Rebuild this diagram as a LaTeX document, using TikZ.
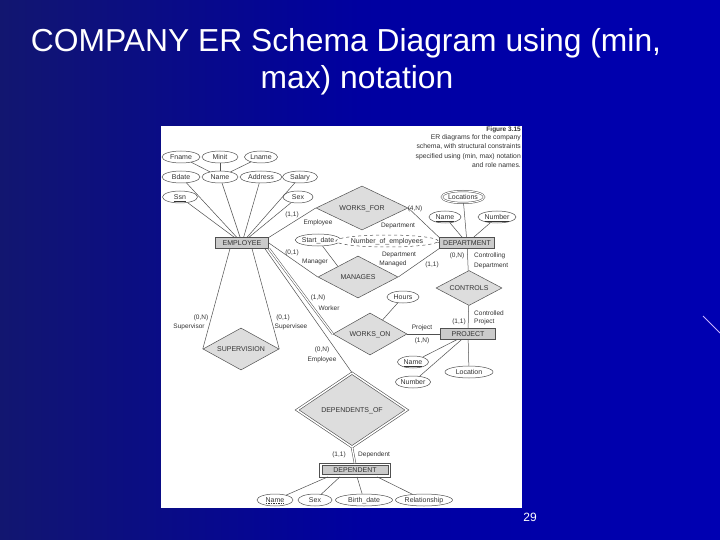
\documentclass[tikz,border=0pt]{standalone}
\usepackage{fontspec}
\setmainfont{Liberation Sans}
\usetikzlibrary{shapes.geometric,calc}
\definecolor{ln}{HTML}{505050}
\definecolor{tx}{HTML}{333333}
\definecolor{relfill}{HTML}{DDDDDD}
\definecolor{entfill}{HTML}{CBCBCB}
\definecolor{bgL}{RGB}{18,22,112}
\definecolor{bgM}{RGB}{0,0,160}
\definecolor{bgR}{RGB}{0,0,178}
\definecolor{lav}{RGB}{200,180,255}
\begin{document}
\begin{tikzpicture}[x=1pt,y=-1pt,
  every node/.style={font=\fontsize{7}{8}\selectfont, text=tx, inner sep=0pt},
  attr/.style={ellipse, draw=ln, line width=0.5pt, fill=white, minimum height=12pt, text height=5pt, text depth=0.5pt},
  ent/.style={rectangle, draw=ln, line width=0.7pt, fill=entfill, minimum height=10.5pt, text height=5pt, text depth=0.5pt},
  rel/.style={diamond, aspect=2.2, draw=ln, line width=0.5pt, fill=relfill, text height=5pt, text depth=0.5pt},
  role/.style={font=\fontsize{6.5}{7.5}\selectfont},
  conn/.style={draw=ln, line width=0.5pt},
  dconn/.style={draw=ln, line width=0.5pt, double=white, double distance=1.3pt},
  slidetitle/.style={text=white, font=\fontsize{31.8}{37}\selectfont, anchor=base},
]
\useasboundingbox (0,0) rectangle (720,540);
\shade[left color=bgL, right color=bgR, middle color=bgM] (0,0) rectangle (720,540);
\draw[lav, line width=0.9pt] (703,316) -- (720,333);
\fill[white] (161,126) rectangle (522,508);

% title
\node[slidetitle] (t1) at (346,52) {COMPANY ER Schema Diagram using (min,};
\node[slidetitle] (t2) at (357,89) {max) notation};
\node[text=white, font=\fontsize{12}{12}\selectfont] (pg) at (530,517) {29};

% caption
\node[anchor=east, font=\bfseries\fontsize{6.5}{7}\selectfont] (figt) at (521,130) {Figure 3.15};
\node[anchor=north east, align=right, font=\fontsize{6.8}{9.6}\selectfont, text=tx] (figc) at (521,134)
  {ER diagrams for the company\\schema, with structural constraints\\specified using (min, max) notation\\and role names.};

% entities
\node[ent, minimum width=53pt] (emp) at (242,243) {EMPLOYEE};
\node[ent, minimum width=55pt] (dept) at (467,243) {DEPARTMENT};
\node[ent, minimum width=55pt] (proj) at (468,334) {PROJECT};
\node[ent, minimum width=66pt, minimum height=9pt, line width=0.6pt] (dep) at (355,470) {DEPENDENT};
\draw[ln, line width=0.6pt] ($(dep.north west)+(-2,-2)$) rectangle ($(dep.south east)+(2,2)$);

% relationships
\node[rel, minimum width=92pt, minimum height=44pt] (wf) at (362,208) {WORKS\_FOR};
\node[rel, minimum width=80pt, minimum height=42pt] (mg) at (358,277) {MANAGES};
\node[rel, minimum width=66pt, minimum height=35pt] (ctrl) at (469,288) {CONTROLS};
\node[rel, minimum width=74pt, minimum height=42pt] (wo) at (370,334) {WORKS\_ON};
\node[rel, minimum width=76pt, minimum height=42pt] (sup) at (241,349) {SUPERVISION};
\node[rel, minimum width=110pt, minimum height=74pt, line width=0.6pt, double=white, double distance=1.5pt] (dof) at (352,410) {DEPENDENTS\_OF};

% attributes
\node[attr, minimum width=38pt] (fname) at (181,157) {Fname};
\node[attr, minimum width=36pt] (minit) at (220,157) {Minit};
\node[attr, minimum width=33pt] (lname) at (261,157) {Lname};
\node[attr, minimum width=38pt] (bdate) at (181,177) {Bdate};
\node[attr, minimum width=36pt] (ename) at (220,177) {Name};
\node[attr, minimum width=42pt] (addr) at (261,177) {Address};
\node[attr, minimum width=35pt] (sal) at (300,177) {Salary};
\node[attr, minimum width=35pt] (ssn) at (180,197) {\underline{Ssn}};
\node[attr, minimum width=30pt] (esex) at (298,197) {Sex};
\node[attr, double=white, double distance=1pt, minimum width=42pt, minimum height=12pt] (loc) at (463,197) {Locations};
\node[attr, minimum width=32pt] (dname) at (445,217) {\underline{Name}};
\node[attr, minimum width=38pt] (dnum) at (497,217) {\underline{Number}};
\node[attr, minimum width=41pt] (sdate) at (318,240) {Start\_date};
\node[attr, dashed, minimum width=90pt, minimum height=12pt] (noe) at (387,241) {Number\_of\_employees};
\node[attr, minimum width=32pt] (hours) at (403,297) {Hours};
\node[attr, minimum width=31pt] (pname) at (413,362) {\underline{Name}};
\node[attr, minimum width=31pt] (pnum) at (413,382) {Number};
\node[attr, minimum width=48pt] (ploc) at (469,372) {Location};
\node[attr, minimum width=36pt] (dpname) at (275,500) {Name};
\draw[tx, line width=0.4pt, dash pattern=on 1.5pt off 1pt] ($(dpname.center)+(-9.3,3.6)$) -- ($(dpname.center)+(9.3,3.6)$);
\node[attr, minimum width=34pt] (dpsex) at (315,500) {Sex};
\node[attr, minimum width=57pt] (bdt) at (364,500) {Birth\_date};
\node[attr, minimum width=57pt] (rls) at (424,500) {Relationship};

% connectors
\draw[conn] (fname) -- (ename);
\draw[conn] (minit) -- (ename);
\draw[conn] (lname) -- (ename);
\draw[conn] (bdate) -- (emp);
\draw[conn] (ename) -- (emp);
\draw[conn] (addr) -- (emp);
\draw[conn] (sal) -- (emp);
\draw[conn] (ssn) -- (emp);
\draw[conn] (esex) -- (emp);
\draw[conn] (emp.north east) -- (wf.west);
\draw[conn] (wf.east) -- (dept.north west);
\draw[conn] (emp.east) -- (mg.west);
\draw[conn] (mg.east) -- (dept.south west);
\draw[conn] (sdate) -- (mg.north west);
\draw[conn, dashed] (noe) -- (dept);
\draw[conn] (loc) -- (dept);
\draw[conn] (dname) -- (dept);
\draw[conn] (dnum) -- (dept);
\draw[conn] (dept) -- (ctrl);
\draw[conn] (ctrl) -- (proj);
\draw[dconn] (emp.south east) -- (wo.west);
\draw[conn] (wo) -- (hours);
\draw[conn] (wo.east) -- (proj.west);
\draw[conn] (pname) -- (proj);
\draw[conn] (pnum) -- (proj);
\draw[conn] (ploc) -- (proj);
\draw[conn] ([xshift=-4pt]emp.south east) -- (dof.north);
\draw[conn] ([xshift=-12pt]emp.south) -- (sup.west);
\draw[conn] ([xshift=10pt]emp.south) -- (sup.east);
\draw[dconn] (dof.south) -- ([yshift=2pt]dep.north);
\draw[conn] ([xshift=-27pt,yshift=-2pt]dep.south) -- (dpname);
\draw[conn] ([xshift=-15pt,yshift=-2pt]dep.south) -- (dpsex);
\draw[conn] ([xshift=2pt,yshift=-2pt]dep.south) -- (bdt);
\draw[conn] ([xshift=22pt,yshift=-2pt]dep.south) -- (rls);

% role labels
\node[role] (r1) at (292,215) {(1,1)};
\node[role] (r2) at (318,223) {Employee};
\node[role] (r3) at (415,209) {(4,N)};
\node[role] (r4) at (398,226) {Department};
\node[role] (r5) at (292,253) {(0,1)};
\node[role] (r6) at (315,262) {Manager};
\node[role] (r7) at (399,255) {Department};
\node[role] (r8) at (393,264) {Managed};
\node[role] (r9) at (432,265) {(1,1)};
\node[role] (r10) at (457,256) {(0,N)};
\node[role, anchor=west] (r11) at (474,256) {Controlling};
\node[role, anchor=west] (r12) at (474,266) {Department};
\node[role, anchor=west] (r13) at (474,313) {Controlled};
\node[role] (r14) at (459,322) {(1,1)};
\node[role, anchor=west] (r15) at (474,322) {Project};
\node[role] (r16) at (422,328) {Project};
\node[role] (r17) at (422,341) {(1,N)};
\node[role] (r18) at (318,298) {(1,N)};
\node[role] (r19) at (329,308) {Worker};
\node[role] (r20) at (322,350) {(0,N)};
\node[role] (r21) at (322,360) {Employee};
\node[role] (r22) at (201,318) {(0,N)};
\node[role] (r23) at (189,327) {Supervisor};
\node[role] (r24) at (283,318) {(0,1)};
\node[role] (r25) at (291,327) {Supervisee};
\node[role] (r26) at (339,455) {(1,1)};
\node[role, anchor=west] (r27) at (358,455) {Dependent};
\end{tikzpicture}
\end{document}
